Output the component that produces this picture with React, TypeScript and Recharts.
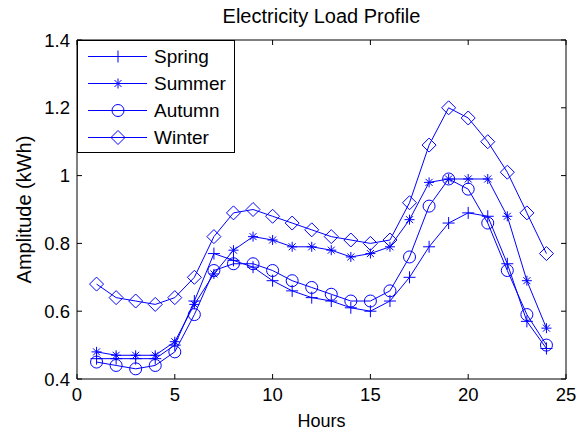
import { LineChart, Line, XAxis, YAxis, Legend } from 'recharts';

const hours = [1, 2, 3, 4, 5, 6, 7, 8, 9, 10, 11, 12, 13, 14, 15, 16, 17, 18, 19, 20, 21, 22, 23, 24];
const spring = [0.46, 0.46, 0.46, 0.46, 0.5, 0.63, 0.77, 0.75, 0.73, 0.69, 0.66, 0.64, 0.63, 0.61, 0.6, 0.63, 0.7, 0.79, 0.86, 0.89, 0.88, 0.74, 0.57, 0.49];
const summer = [0.48, 0.47, 0.47, 0.47, 0.51, 0.62, 0.71, 0.78, 0.82, 0.81, 0.79, 0.79, 0.78, 0.76, 0.77, 0.79, 0.87, 0.98, 0.99, 0.99, 0.99, 0.88, 0.69, 0.55];
const autumn = [0.45, 0.44, 0.43, 0.44, 0.48, 0.59, 0.72, 0.74, 0.74, 0.72, 0.69, 0.67, 0.65, 0.63, 0.63, 0.66, 0.76, 0.91, 0.99, 0.96, 0.86, 0.72, 0.59, 0.5];
const winter = [0.68, 0.64, 0.63, 0.62, 0.64, 0.7, 0.82, 0.89, 0.9, 0.88, 0.86, 0.84, 0.82, 0.81, 0.8, 0.81, 0.92, 1.09, 1.2, 1.17, 1.1, 1.01, 0.89, 0.77];

const xTicks = [0, 5, 10, 15, 20, 25];
const yTicks = [0.4, 0.6, 0.8, 1, 1.2, 1.4];

const BLUE = '#0000ff';
const FONT = '"Liberation Sans", Arial, Helvetica, sans-serif';

const data = hours.map((h, i) => ({
  hour: h,
  spring: spring[i],
  summer: summer[i],
  autumn: autumn[i],
  winter: winter[i],
}));

type MarkProps = { cx: number; cy: number };

const PlusMark = ({ cx, cy }: MarkProps) => (
  <g stroke={BLUE} strokeWidth={1} fill="none">
    <line x1={cx - 6} x2={cx + 6} y1={cy} y2={cy} />
    <line x1={cx} x2={cx} y1={cy - 6} y2={cy + 6} />
  </g>
);

const StarMark = ({ cx, cy }: MarkProps) => (
  <g stroke={BLUE} strokeWidth={1} fill="none">
    <line x1={cx - 5} x2={cx + 5} y1={cy} y2={cy} />
    <line x1={cx} x2={cx} y1={cy - 5} y2={cy + 5} />
    <line x1={cx - 3.5} x2={cx + 3.5} y1={cy - 3.5} y2={cy + 3.5} />
    <line x1={cx - 3.5} x2={cx + 3.5} y1={cy + 3.5} y2={cy - 3.5} />
  </g>
);

const CircleMark = ({ cx, cy }: MarkProps) => (
  <circle cx={cx} cy={cy} r={6} stroke={BLUE} strokeWidth={1} fill="none" />
);

const DiamondMark = ({ cx, cy }: MarkProps) => (
  <polygon
    points={`${cx},${cy - 7} ${cx + 7},${cy} ${cx},${cy + 7} ${cx - 7},${cy}`}
    stroke={BLUE}
    strokeWidth={1}
    fill="none"
  />
);

const makeDot = (Mark: (p: MarkProps) => any) => (props: any) => {
  const { cx, cy, index } = props;
  return (
    <g key={`m-${index}`}>
      <Mark cx={cx} cy={cy} />
    </g>
  );
};

const seasons = [
  { key: 'spring', name: 'Spring', Mark: PlusMark },
  { key: 'summer', name: 'Summer', Mark: StarMark },
  { key: 'autumn', name: 'Autumn', Mark: CircleMark },
  { key: 'winter', name: 'Winter', Mark: DiamondMark },
];

const LegendBox = () => (
  <div
    style={{
      width: 158,
      height: 113,
      boxSizing: 'border-box',
      border: '1px solid #000',
      background: '#fff',
      paddingTop: 2,
      fontFamily: FONT,
    }}
  >
    {seasons.map((s) => (
      <div key={s.key} style={{ display: 'flex', alignItems: 'center', height: 27 }}>
        <svg width={76} height={27} style={{ display: 'block' }}>
          <line x1={10} x2={69} y1={13.5} y2={13.5} stroke={BLUE} strokeWidth={1} />
          <s.Mark cx={40} cy={13.5} />
        </svg>
        <span style={{ fontSize: 19, color: '#000', lineHeight: '27px' }}>{s.name}</span>
      </div>
    ))}
  </div>
);

const axisTick = { fill: '#000', fontSize: 18.5, fontFamily: FONT };
const noTick = () => <g />;

export default function App() {
  return (
    <div style={{ position: 'absolute', left: 0, top: 0, width: 577, height: 429, background: '#fff', fontFamily: FONT }}>
      <LineChart width={577} height={429} data={data} margin={{ top: 39, right: 10, left: 0, bottom: 0 }}>
        <XAxis
          dataKey="hour"
          type="number"
          domain={[0, 25]}
          ticks={xTicks}
          interval={0}
          height={50}
          tickSize={-5}
          tickMargin={14}
          tick={axisTick}
          axisLine={{ stroke: '#000' }}
          tickLine={{ stroke: '#000' }}
          label={{ value: 'Hours', position: 'insideBottom', offset: 2.5, fill: '#000', fontSize: 18, fontFamily: FONT }}
        />
        <XAxis
          xAxisId="top"
          orientation="top"
          dataKey="hour"
          type="number"
          domain={[0, 25]}
          ticks={xTicks}
          interval={0}
          height={1}
          tickSize={-5}
          tick={noTick}
          allowDataOverflow
          axisLine={{ stroke: '#000' }}
          tickLine={{ stroke: '#000' }}
          label={{ value: 'Electricity Load Profile', position: 'top', offset: 16, fill: '#000', fontSize: 20, fontFamily: FONT }}
        />
        <YAxis
          type="number"
          domain={[0.4, 1.4]}
          ticks={yTicks}
          interval={0}
          width={77}
          tickSize={-5}
          tickMargin={12}
          tick={axisTick}
          allowDataOverflow
          axisLine={{ stroke: '#000' }}
          tickLine={{ stroke: '#000' }}
          label={{
            value: 'Amplitude (kWh)',
            angle: -90,
            position: 'insideLeft',
            offset: 24,
            fill: '#000',
            fontSize: 20,
            fontFamily: FONT,
            style: { textAnchor: 'middle' },
          }}
        />
        <YAxis
          yAxisId="right"
          orientation="right"
          type="number"
          domain={[0.4, 1.4]}
          ticks={yTicks}
          interval={0}
          width={1}
          tickSize={-5}
          tick={noTick}
          allowDataOverflow
          axisLine={{ stroke: '#000' }}
          tickLine={{ stroke: '#000' }}
        />
        <Legend
          layout="vertical"
          align="center"
          verticalAlign="middle"
          content={() => <LegendBox />}
          wrapperStyle={{ left: 77, top: 40, width: 158, height: 113 }}
        />
        {seasons.map((s) => (
          <Line
            key={s.key}
            type="linear"
            dataKey={s.key}
            name={s.name}
            stroke={BLUE}
            strokeWidth={1}
            dot={makeDot(s.Mark)}
            activeDot={false}
            isAnimationActive={false}
          />
        ))}
      </LineChart>
    </div>
  );
}
